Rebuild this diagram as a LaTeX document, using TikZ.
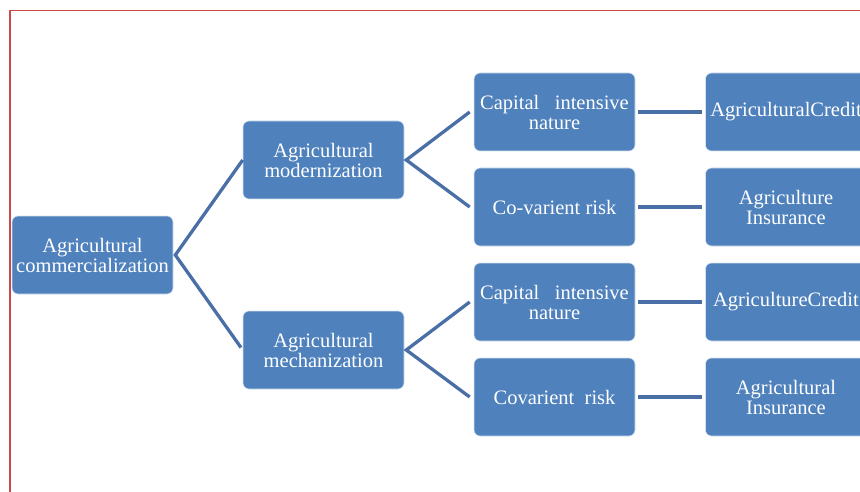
\documentclass[tikz,border=0pt]{standalone}
\usepackage{fontspec}
\setmainfont{Liberation Serif}
\definecolor{boxblue}{HTML}{4F81BD}
\definecolor{lineblue}{HTML}{4A6EA6}
\definecolor{edgeblue}{HTML}{D6E1EF}
\definecolor{framered}{HTML}{C94A48}
\begin{document}
\begin{tikzpicture}[x=1pt,y=-1pt,
  box/.style={draw=edgeblue,line width=0.6pt,fill=boxblue,rounded corners=6pt,
    minimum width=161pt,minimum height=78pt,inner sep=1pt,align=center,
    text=white,font=\fontsize{20.5}{20}\selectfont},
  link/.style={draw=lineblue,line width=3.3pt,line join=miter}]
\useasboundingbox (0,0) rectangle (860,492);
\draw[framered,line width=1.6pt] (10,492) -- (10,10.5) -- (860,10.5);
\node[box] (root) at (92.5,255) {Agricultural\\commercialization};
\node[box] (m1) at (323.5,160) {Agricultural\\modernization};
\node[box] (m2) at (323.5,350) {Agricultural\\mechanization};
\node[box] (a1) at (554.5,112) {Capital\ \ \ intensive\\nature};
\node[box] (a2) at (554.5,207) {Co-varient risk};
\node[box] (a3) at (554.5,302) {Capital\ \ \ intensive\\nature};
\node[box] (a4) at (554.5,397) {Covarient\ \ risk};
\node[box] (b1) at (786,112) {AgriculturalCredit};
\node[box] (b2) at (786,207) {Agriculture\\Insurance};
\node[box] (b3) at (786,302) {AgricultureCredit};
\node[box] (b4) at (786,397) {Agricultural\\Insurance};
\coordinate (r0) at ([xshift=2pt]root.east);
\coordinate (p1) at ([xshift=2pt]m1.east);
\coordinate (p2) at ([xshift=2pt]m2.east);
\draw[link,shorten >=3pt] (m1.west) -- (r0) -- (m2.west);
\draw[link] ([xshift=-4pt]a1.west) -- (p1) -- ([xshift=-4pt]a2.west);
\draw[link] ([xshift=-4pt]a3.west) -- (p2) -- ([xshift=-4pt]a4.west);
\draw[link,shorten <=3pt,shorten >=3pt] (a1) -- (b1);
\draw[link,shorten <=3pt,shorten >=3pt] (a2) -- (b2);
\draw[link,shorten <=3pt,shorten >=3pt] (a3) -- (b3);
\draw[link,shorten <=3pt,shorten >=3pt] (a4) -- (b4);
\end{tikzpicture}
\end{document}
